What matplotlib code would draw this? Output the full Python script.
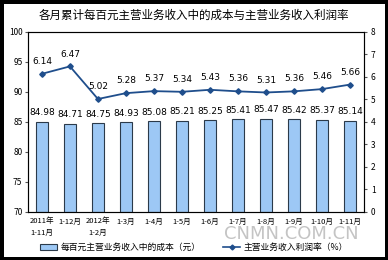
import matplotlib.pyplot as plt
from matplotlib.patches import Patch
from matplotlib.lines import Line2D

plt.rcParams['font.family'] = ['Noto Sans CJK SC', 'DejaVu Sans']

months = ['2011年\n1-11月', '1-12月', '2012年\n1-2月', '1-3月', '1-4月', '1-5月',
          '1-6月', '1-7月', '1-8月', '1-9月', '1-10月', '1-11月']
cost = [84.98, 84.71, 84.75, 84.93, 85.08, 85.21, 85.25, 85.41, 85.47, 85.42, 85.37, 85.14]
margin = [6.14, 6.47, 5.02, 5.28, 5.37, 5.34, 5.43, 5.36, 5.31, 5.36, 5.46, 5.66]

bar_color = '#9DC8F5'
line_color = '#1F4E8C'

fig = plt.figure(figsize=(3.88, 2.60), dpi=100)
fig.patch.set_edgecolor('black')
fig.patch.set_linewidth(5)

ax = fig.add_axes([0.072, 0.185, 0.866, 0.692])
x = range(len(months))
ax.bar(x, [c - 70 for c in cost], bottom=70, width=0.42, color=bar_color,
       edgecolor='#2b3a4a', linewidth=0.8, zorder=2)
ax.set_xlim(-0.5, len(months) - 0.5)
ax.set_ylim(70, 100)
ax.set_yticks(range(70, 101, 5))
ax.tick_params(axis='y', labelsize=6, length=2, pad=2, color='#555555')
ax.set_xticks(list(x))
ax.set_xticklabels(months, fontsize=5.5, linespacing=1.6)
ax.tick_params(axis='x', length=0, pad=4)
for i, c in enumerate(cost):
    ax.text(i, c + 0.8, f'{c:.2f}', ha='center', va='bottom', fontsize=6.5,
            family='DejaVu Sans')
for s in ax.spines.values():
    s.set_color('#555555')
    s.set_linewidth(0.8)

ax2 = ax.twinx()
ax2.plot(list(x), margin, color=line_color, linewidth=1.3, marker='D',
         markersize=2.8, zorder=3)
ax2.set_ylim(0, 8)
ax2.set_yticks(range(0, 9))
ax2.tick_params(axis='y', labelsize=6, length=2, pad=3, color='#555555')
for i, m in enumerate(margin):
    ax2.text(i, m + 0.35, f'{m:.2f}', ha='center', va='bottom', fontsize=6.5,
             family='DejaVu Sans')

fig.text(0.5, 0.94, '各月累计每百元主营业务收入中的成本与主营业务收入利润率',
         ha='center', va='center', fontsize=8.3)

handles = [Patch(facecolor=bar_color, edgecolor='#2b3a4a', linewidth=0.8),
           Line2D([0], [0], color=line_color, linewidth=1.2, marker='D', markersize=2.5)]
fig.legend(handles, ['每百元主营业务收入中的成本（元）', '主营业务收入利润率（%）'],
           loc='center', bbox_to_anchor=(0.5, 0.048), ncol=2, frameon=False,
           fontsize=6.3, handlelength=2.0, handleheight=0.6, columnspacing=2.5,
           handletextpad=0.4)

fig.text(0.75, 0.10, 'CNMN.COM.CN', ha='center', va='center', fontsize=13,
         color='#c4c4c4', family='DejaVu Sans')

fig.savefig('out.png', dpi=100)
